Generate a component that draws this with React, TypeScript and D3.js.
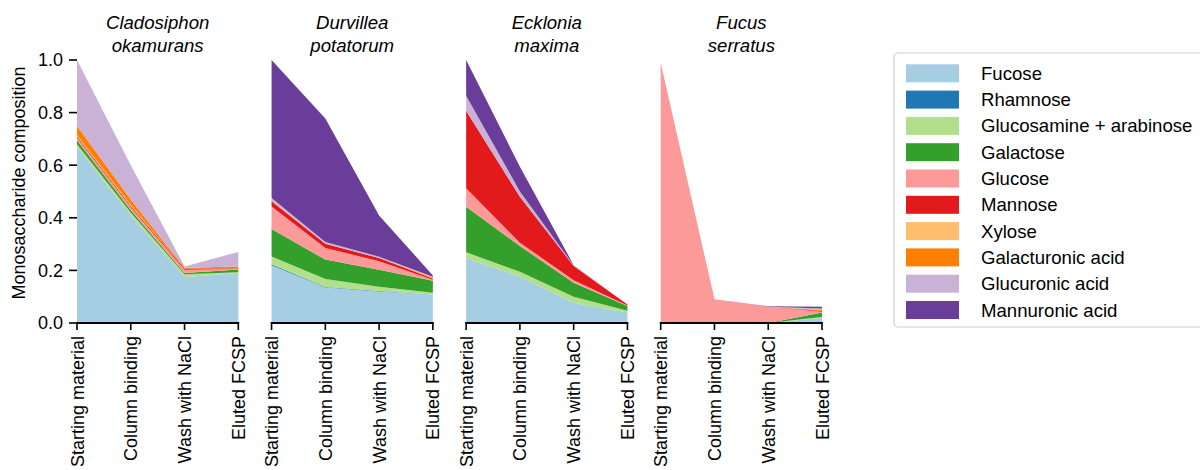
import React from "react";
import * as d3 from "d3";

const steps = ["Starting material", "Column binding", "Wash with NaCl", "Eluted FCSP"];

const speciesTitles = [
  ["Cladosiphon", "okamurans"],
  ["Durvillea", "potatorum"],
  ["Ecklonia", "maxima"],
  ["Fucus", "serratus"],
];

const sugars = [
  "Fucose",
  "Rhamnose",
  "Glucosamine + arabinose",
  "Galactose",
  "Glucose",
  "Mannose",
  "Xylose",
  "Galacturonic acid",
  "Glucuronic acid",
  "Mannuronic acid",
];

const colors = [
  "#a6cee3", "#1f78b4", "#b2df8a", "#33a02c", "#fb9a99",
  "#e31a1c", "#fdbf6f", "#ff7f00", "#cab2d6", "#6a3d9a",
];

// one row per sugar, one value per step
const cladosiphon = [
  [0.67, 0.41, 0.175, 0.19],
  [0, 0, 0, 0],
  [0.01, 0.01, 0.01, 0.003],
  [0.015, 0.01, 0.005, 0.01],
  [0.01, 0.01, 0.012, 0.002],
  [0.005, 0.005, 0.005, 0.002],
  [0.005, 0.005, 0, 0],
  [0.035, 0.02, 0.003, 0.008],
  [0.25, 0.13, 0.005, 0.055],
  [0, 0, 0, 0],
];

const durvillea = [
  [0.22, 0.135, 0.12, 0.108],
  [0.003, 0.002, 0.002, 0],
  [0.03, 0.03, 0.016, 0.007],
  [0.104, 0.074, 0.064, 0.046],
  [0.086, 0.044, 0.033, 0.003],
  [0.02, 0.016, 0.012, 0.005],
  [0, 0, 0, 0.002],
  [0.002, 0, 0, 0.003],
  [0.01, 0.007, 0.005, 0.002],
  [0.525, 0.47, 0.157, 0.005],
];

const ecklonia = [
  [0.246, 0.176, 0.077, 0.04],
  [0, 0, 0, 0],
  [0.023, 0.019, 0.023, 0.007],
  [0.173, 0.098, 0.053, 0.018],
  [0.07, 0.012, 0.01, 0.002],
  [0.295, 0.175, 0.054, 0.003],
  [0, 0, 0, 0],
  [0, 0, 0, 0],
  [0.057, 0.02, 0.002, 0],
  [0.136, 0.094, 0.001, 0],
];

const fucus = [
  [0, 0, 0, 0.02],
  [0, 0, 0, 0],
  [0, 0, 0, 0.003],
  [0, 0, 0, 0.017],
  [0.99, 0.09, 0.062, 0.003],
  [0, 0, 0, 0.003],
  [0, 0, 0, 0],
  [0, 0, 0, 0.003],
  [0, 0, 0, 0.006],
  [0, 0, 0.002, 0.007],
];

const panels = [cladosiphon, durvillea, ecklonia, fucus];

const W = 1200;
const H = 470;
const font = "'Liberation Sans', Arial, sans-serif";
const fs = 18;
const fsBig = 18.6;

const App = () => {
  const panelScale = d3
    .scaleBand<number>()
    .domain(d3.range(panels.length))
    .range([77, 822])
    .paddingInner(0.171)
    .paddingOuter(0);

  const y = d3.scaleLinear().domain([0, 1]).range([323, 60]);
  const yTicks = d3.range(0, 1.01, 0.2);

  const keys = sugars.map((_, i) => String(i));
  const stack = d3.stack<any>().keys(keys);

  return (
    <svg
      width={W}
      height={H}
      style={{ position: "absolute", left: 0, top: 0, background: "#fff", fontFamily: font }}
    >
      {/* y axis label */}
      <text
        transform={`translate(25,183) rotate(-90)`}
        textAnchor="middle"
        fontSize={fs}
        fill="#000"
      >
        Monosaccharide composition
      </text>

      {/* y ticks on first panel */}
      {yTicks.map((t) => (
        <g key={t}>
          <line x1={69} x2={77} y1={y(t)} y2={y(t)} stroke="#000" strokeWidth={1.6} />
          <text x={63} y={y(t)} dy="0.35em" textAnchor="end" fontSize={fs} fill="#000">
            {d3.format(".1f")(t)}
          </text>
        </g>
      ))}

      {panels.map((vals, p) => {
        const x0 = panelScale(p)!;
        const x = d3
          .scalePoint<string>()
          .domain(steps)
          .range([x0, x0 + panelScale.bandwidth()]);
        const rows = steps.map((s, j) => {
          const r: any = { step: s };
          vals.forEach((v, i) => (r[String(i)] = v[j]));
          return r;
        });
        const series = stack(rows);
        const area = d3
          .area<any>()
          .x((d) => x(d.data.step)!)
          .y0((d) => y(d[0]))
          .y1((d) => y(d[1]));
        const cx = x0 + panelScale.bandwidth() / 2;
        return (
          <g key={p}>
            <text x={cx} y={29} textAnchor="middle" fontSize={fsBig} fontStyle="italic" fill="#000">
              {speciesTitles[p][0]}
            </text>
            <text x={cx} y={52} textAnchor="middle" fontSize={fsBig} fontStyle="italic" fill="#000">
              {speciesTitles[p][1]}
            </text>
            {series.map((s, i) => (
              <path key={i} d={area(s as any) || ""} fill={colors[i]} stroke="none" />
            ))}
            <line
              x1={x0}
              x2={x0 + panelScale.bandwidth()}
              y1={y(0)}
              y2={y(0)}
              stroke="#000"
              strokeWidth={1.8}
              strokeLinecap="square"
            />
            {steps.map((s) => (
              <g key={s}>
                <line x1={x(s)} x2={x(s)} y1={y(0)} y2={y(0) + 7} stroke="#000" strokeWidth={1.6} />
                <text
                  transform={`translate(${x(s)! + 6.5},${y(0) + 13}) rotate(-90)`}
                  textAnchor="end"
                  fontSize={fs}
                  fill="#000"
                >
                  {s}
                </text>
              </g>
            ))}
          </g>
        );
      })}

      {/* legend */}
      <g>
        <rect x={894} y={53} width={340} height={274} rx={4} fill="#fff" stroke="#cfcfcf" strokeWidth={1.2} />
        {sugars.map((s, i) => {
          const cy = 73.3 + i * 26.3;
          return (
            <g key={s}>
              <rect x={906} y={cy - 9} width={53} height={18} fill={colors[i]} />
              <text x={981} y={cy} dy="0.35em" fontSize={fsBig} fill="#000">
                {s}
              </text>
            </g>
          );
        })}
      </g>
    </svg>
  );
};

export default App;
